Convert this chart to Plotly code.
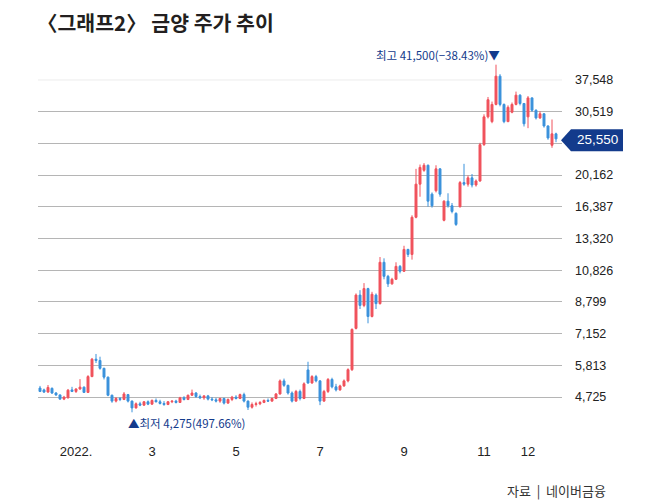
import math
import pandas as pd
import plotly.graph_objects as go

# 금양 일봉 (2거래일 단위), 2021-12-07 ~ 2022-12-22
title = "〈그래프2〉 금양 주가 추이"
source = "자료\u00a0\u00a0|\u00a0\u00a0네이버금융"

holidays = ["2021-12-31", "2022-01-31", "2022-02-01", "2022-02-02", "2022-03-01",
            "2022-03-09", "2022-05-05", "2022-06-01", "2022-06-06", "2022-08-15",
            "2022-09-09", "2022-09-12", "2022-10-03", "2022-10-10"]

open_ = [5010, 4950, 4880, 5000, 4850, 4790, 4660, 4700, 4950, 4900,
         4980, 5040, 4870, 5400, 6050, 6000, 5700, 5380, 4780, 4600,
         4680, 4650, 4800, 4600, 4400, 4520, 4480, 4580, 4510, 4620,
         4580, 4530, 4500, 4580, 4600, 4560, 4700, 4650, 4780, 4850,
         4740, 4700, 4760, 4660, 4640, 4600, 4680, 4540, 4650, 4720,
         4680, 4800, 4600, 4420, 4500, 4520, 4560, 4620, 4600, 4680,
         4820, 5250, 5100, 4850, 4600, 4900, 4680, 5640, 5180, 5400,
         5250, 4600, 4900, 5300, 5050, 4950, 5080, 5250, 5650, 7400,
         9200, 8600, 9600, 8000, 9200, 8700, 11400, 10400, 9900, 10200,
         11100, 10750, 12400, 12000, 15300, 19000, 20800, 21500, 17800, 18200,
         21000, 15000, 17000, 16500, 15700, 16400, 19200, 19000, 19800, 18900,
         19400, 24600, 29500, 28600, 32000, 38500, 32000, 28600, 30400, 32000,
         34000, 32200, 29500, 33400, 30800, 29300, 30100, 27800, 24500, 26400]
high = [5080, 4990, 5110, 5030, 4880, 4800, 4760, 4980, 5050, 5000,
        5310, 5060, 5450, 6100, 6260, 6150, 5720, 5400, 4800, 4720,
        4720, 4880, 4820, 4620, 4560, 4580, 4600, 4620, 4650, 4680,
        4640, 4600, 4600, 4620, 4640, 4730, 4750, 4800, 4960, 4880,
        4800, 4780, 4790, 4720, 4700, 4700, 4700, 4680, 4760, 4780,
        4830, 4860, 4620, 4560, 4580, 4600, 4650, 4680, 4700, 4850,
        5300, 5330, 5120, 4900, 4950, 4960, 5200, 5950, 5450, 5460,
        5280, 4950, 5350, 5360, 5150, 5120, 5300, 5700, 7400, 9300,
        9500, 9950, 9650, 9400, 9300, 11800, 11700, 10500, 10300, 11400,
        11200, 12700, 12450, 15500, 21000, 21600, 21800, 21600, 18000, 21500,
        21100, 17100, 17900, 16800, 15800, 19400, 21700, 20100, 20300, 19600,
        24900, 30000, 33600, 32600, 41500, 39000, 32200, 31800, 32400, 34800,
        34200, 32300, 33800, 33500, 31000, 30600, 30200, 27900, 29000, 26600]
low = [4880, 4850, 4860, 4820, 4760, 4640, 4630, 4680, 4880, 4850,
       4950, 4850, 4850, 5380, 5900, 5650, 5300, 4750, 4550, 4560,
       4600, 4630, 4560, 4275, 4380, 4450, 4460, 4480, 4490, 4560,
       4500, 4460, 4480, 4540, 4530, 4550, 4620, 4630, 4760, 4700,
       4660, 4640, 4620, 4600, 4560, 4550, 4500, 4520, 4600, 4650,
       4660, 4560, 4340, 4380, 4440, 4480, 4540, 4580, 4580, 4660,
       4800, 5050, 4800, 4560, 4580, 4620, 4660, 5150, 5150, 5200,
       4480, 4580, 4850, 5000, 4900, 4920, 5050, 5200, 5600, 7350,
       8400, 8500, 7650, 7950, 8400, 8650, 10200, 9700, 9850, 10150,
       10600, 10700, 11800, 11600, 15200, 17500, 20600, 16400, 16300, 18000,
       17500, 14900, 16300, 15700, 14460, 16300, 18800, 18700, 18600, 18700,
       19300, 24400, 29200, 28300, 31800, 31600, 28300, 28500, 30200, 31800,
       31800, 27700, 27400, 30500, 29000, 29100, 27500, 25400, 24100, 25000]
close = [4900, 4880, 5030, 4850, 4790, 4660, 4720, 4940, 4900, 4980,
         5040, 4870, 5400, 6050, 6000, 5700, 5380, 4780, 4600, 4680,
         4650, 4820, 4600, 4400, 4520, 4480, 4580, 4510, 4620, 4580,
         4530, 4500, 4580, 4600, 4560, 4700, 4650, 4780, 4850, 4740,
         4700, 4760, 4660, 4640, 4600, 4680, 4540, 4650, 4720, 4680,
         4800, 4600, 4420, 4500, 4520, 4560, 4620, 4600, 4680, 4820,
         5250, 5100, 4850, 4600, 4900, 4680, 5150, 5180, 5400, 5250,
         4600, 4900, 5300, 5050, 4950, 5080, 5250, 5650, 7350, 9200,
         8600, 9600, 8000, 9250, 8700, 11400, 10400, 9900, 10200, 11100,
         10750, 12400, 12000, 15300, 19000, 21200, 21500, 17000, 16500, 21000,
         17800, 17000, 16500, 15900, 14600, 19200, 19000, 19800, 18900, 19400,
         24600, 29500, 33000, 32000, 38500, 32000, 28600, 31400, 32000, 34000,
         32200, 28200, 33400, 30800, 29300, 30100, 27800, 25700, 26400, 25550]

y_ticks = [4725, 5813, 7152, 8799, 10826, 13320, 16387, 20162, 24805, 30519, 37548]
y_labels = ["4,725", "5,813", "7,152", "8,799", "10,826", "13,320", "16,387",
            "20,162", "", "30,519", "37,548"]
month_labels = {1: "2022.", 3: "3", 5: "5", 7: "7", 9: "9", 11: "11", 12: "12"}

RED = "#f0525c"
BLUE = "#3b92dc"
NAVY = "#133b8c"

days = pd.bdate_range("2021-12-07", "2022-12-30")
days = days[~days.isin(pd.to_datetime(holidays))][::2][:len(close)]
dates = days.strftime("%Y-%m-%d").tolist()

tickvals, ticktext = [], []
for m, lab in month_labels.items():
    first = next(d for d in days if d.year == 2022 and d.month == m)
    tickvals.append(first.strftime("%Y-%m-%d"))
    ticktext.append(lab)

# plot area in pixels
L, R, T, B = 38, 88, 50, 62
W = 650 - L - R
H = 500 - T - B
y_range = [3.558, 4.6597]


def px_x(p):
    return (p - L) / W


def px_y(p):
    return (500 - B - p) / H


def val_y(v):
    return (math.log10(v) - y_range[0]) / (y_range[1] - y_range[0])


fig = go.Figure(go.Candlestick(
    x=dates, open=open_, high=high, low=low, close=close,
    increasing=dict(line=dict(color=RED, width=1), fillcolor=RED),
    decreasing=dict(line=dict(color=BLUE, width=1), fillcolor=BLUE),
    whiskerwidth=0, hoverinfo="skip",
))

last = close[-1]
i_hi = high.index(max(high))
i_lo = low.index(min(low))
hi_pct = (last / high[i_hi] - 1) * 100
lo_pct = (last / low[i_lo] - 1) * 100

kfont = "Noto Sans CJK KR"
nfont = "Liberation Sans, Arial, sans-serif"

annotations = [
    dict(x=dates[i_hi], y=math.log10(high[i_hi]), xref="x", yref="y",
         text=f"최고 {high[i_hi]:,}({hi_pct:.2f}%)▼".replace("-", "−"),
         showarrow=False, xanchor="right", yanchor="bottom", xshift=6, yshift=0,
         font=dict(family=kfont, size=11.5, color=NAVY)),
    dict(x=dates[i_lo], y=math.log10(low[i_lo]), xref="x", yref="y",
         text=f"▲최저 {low[i_lo]:,}({lo_pct:.2f}%)",
         showarrow=False, xanchor="left", yanchor="top", xshift=-6, yshift=-1,
         font=dict(family=kfont, size=11.5, color=NAVY)),
    dict(x=px_x(597), y=val_y(last), xref="paper", yref="paper",
         text=f"{last:,}", showarrow=False, xanchor="center", yanchor="middle",
         yshift=-1, font=dict(family=nfont, size=13.5, color="white")),
    dict(x=px_x(608), y=px_y(490), xref="paper", yref="paper", text=source,
         showarrow=False, xanchor="right", yanchor="middle",
         font=dict(family=kfont, size=13, color="#333333")),
]

yc = val_y(last) - 1.5 / H
hh = 11 / H
x_tip, x_b, x_r = px_x(561), px_x(571), px_x(623)
shapes = [
    dict(type="path", xref="paper", yref="paper", layer="above",
         path=f"M {x_tip},{yc} L {x_b},{yc + hh} L {x_r},{yc + hh} "
              f"L {x_r},{yc - hh} L {x_b},{yc - hh} Z",
         fillcolor=NAVY, line=dict(width=0)),
    dict(type="line", xref="paper", yref="paper", layer="below",
         x0=0, x1=1, y0=val_y(y_ticks[-1]), y1=val_y(y_ticks[-1]),
         line=dict(color="#ececec", width=1)),
]

fig.update_layout(
    width=650, height=500,
    margin=dict(l=L, r=R, t=T, b=B),
    paper_bgcolor="white", plot_bgcolor="white",
    showlegend=False,
    title=dict(text=f"<b>{title}</b>", x=37 / 650, xanchor="left",
               y=1 - 17 / 500, yanchor="top",
               font=dict(family=kfont, size=20.5, color="#231f20")),
    xaxis=dict(type="category", range=[-0.5, len(dates) + 0.5],
               rangeslider=dict(visible=False), showgrid=False, zeroline=False,
               showline=False, ticks="", tickvals=tickvals, ticktext=ticktext,
               tickfont=dict(family=nfont, size=13, color="#222222"),
               ticklabelstandoff=4),
    yaxis=dict(type="log", side="right", range=y_range, tickvals=y_ticks,
               ticktext=y_labels, showgrid=False, zeroline=False, showline=False,
               ticks="", ticklabelstandoff=12,
               tickfont=dict(family=nfont, size=12.5, color="#222222"),
               minor=dict(tickvals=y_ticks[:-1], showgrid=True,
                          gridcolor="#b5b5b5", gridwidth=1, ticks="")),
    annotations=annotations,
    shapes=shapes,
)

# the page's default body margin would push the figure 8px right and down
fig.write_html("out.html", config={"displayModeBar": False},
               post_script="document.body.style.margin='0';")
